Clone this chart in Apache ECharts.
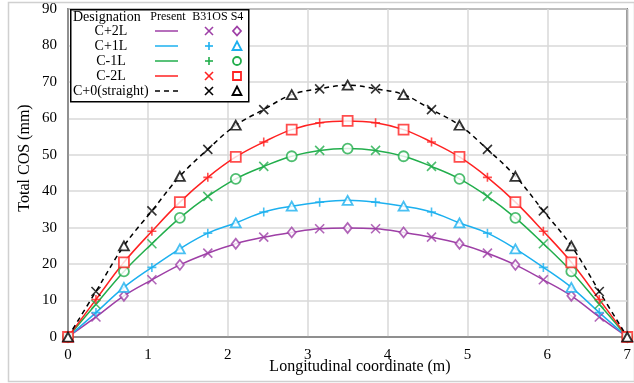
<!DOCTYPE html>
<html><head><meta charset="utf-8">
<script src="https://cdn.jsdelivr.net/npm/echarts@6/dist/echarts.min.js"></script>
<style>html,body{margin:0;padding:0;background:#fff}#c{width:634px;height:383px}</style>
</head><body><div id="c"></div>
<script>
var xs = [0,0.35,0.7,1.05,1.4,1.75,2.1,2.45,2.8,3.15,3.5,3.85,4.2,4.55,4.9,5.25,5.6,5.95,6.3,6.65,7];
var cP2 = [0,5.5,11.3,15.7,19.8,23.0,25.6,27.4,28.7,29.7,29.9,29.7,28.7,27.4,25.6,23.0,19.8,15.7,11.3,5.5,0];
var cP1 = [0,6.7,13.6,19.1,24.2,28.5,31.3,34.3,35.9,37.0,37.5,37.0,35.9,34.3,31.3,28.5,24.2,19.1,13.6,6.7,0];
var cM1 = [0,9.0,18.0,25.6,32.7,38.6,43.4,46.8,49.6,51.2,51.7,51.2,49.6,46.8,43.4,38.6,32.7,25.6,18.0,9.0,0];
var cM2 = [0,10.3,20.5,29.0,37.0,43.8,49.4,53.5,56.9,58.8,59.3,58.8,56.9,53.5,49.4,43.8,37.0,29.0,20.5,10.3,0];
var c0  = [0,12.5,25.0,34.6,44.1,51.5,58.1,62.4,66.5,68.1,69.1,68.1,66.5,62.4,58.1,51.5,44.1,34.6,25.0,12.5,0];
var names = ['C+2L','C+1L','C-1L','C-2L','C+0(straight)'];
var colors = ['#9e3fa6','#1cb0ef','#22ae4c','#ff2222','#000000'];
var xTicks = ['0','1','2','3','4','5','6','7'];
var yTicks = ['0','10','20','30','40','50','60','70','80','90'];

var CROSS = 'path://M0,0L10,10M10,0L0,10';
var PLUS = 'path://M5,0L5,10M0,5L10,5';
var b31Sym = [CROSS, PLUS, CROSS, PLUS, CROSS];
var s4Sym = ['diamond','triangle','circle','rect','triangle'];
var s4Size = [[8,10],[10,9],[10,10],[10,10],[10,9]];
var all = [cP2,cP1,cM1,cM2,c0];

function pairs(arr, parity){
  var out=[];
  for (var i=0;i<xs.length;i++){ if (parity===null || i%2===parity) out.push([xs[i],arr[i]]); }
  return out;
}
var series=[];
all.forEach(function(arr,k){
  series.push({type:'line', name:names[k]+' Present', data:pairs(arr,null), smooth:0.4, showSymbol:false,
    lineStyle:{color:colors[k], width:1.5, type: k===4?[5,4]:'solid'}, z:2, silent:true});
});
all.forEach(function(arr,k){
  series.push({type:'scatter', name:names[k]+' B31OS', data:pairs(arr,1), symbol:b31Sym[k], symbolSize:9,
    itemStyle:{color:'rgba(0,0,0,0)', borderColor:colors[k], borderWidth:1.6}, z:3});
  series.push({type:'scatter', name:names[k]+' S4', data:pairs(arr,0), symbol:s4Sym[k], symbolSize:s4Size[k],
    itemStyle:{color:'#fff', borderColor:colors[k], borderWidth:1.8}, z:4});
});

var serif = 'Liberation Serif';
var g=[];
g.push({type:'rect', shape:{x:0,y:0,width:626,height:379}, style:{fill:'none', stroke:'#d0d0d0', lineWidth:1.5}, z:0, silent:true, left:6, top:0});
g.push({type:'rect', left:70, top:9, shape:{x:0,y:0,width:178,height:92}, style:{fill:'#fff', stroke:'#000', lineWidth:1.5}, z:100});
g.push({type:'text', left:73, top:10, style:{text:'Designation', font:'14px '+serif, fill:'#000'}, z:101});
g.push({type:'text', x:168, y:17, style:{text:'Present', font:'12px '+serif, fill:'#000', align:'center', verticalAlign:'middle'}, z:101});
g.push({type:'text', x:210, y:17, style:{text:'B31OS', font:'12px '+serif, fill:'#000', align:'center', verticalAlign:'middle'}, z:101});
g.push({type:'text', x:237, y:17, style:{text:'S4', font:'12px '+serif, fill:'#000', align:'center', verticalAlign:'middle'}, z:101});
var rowY=[31,46,61,76,91];
var legB31 = [CROSS, PLUS, PLUS, CROSS, CROSS];
function glyph(kind, cx, cy, col){
  var s=4;
  if (kind===CROSS) return [{type:'polyline', shape:{points:[[cx-s,cy-s],[cx+s,cy+s]]}, style:{stroke:col,lineWidth:1.6}},{type:'polyline', shape:{points:[[cx+s,cy-s],[cx-s,cy+s]]}, style:{stroke:col,lineWidth:1.6}}];
  if (kind===PLUS) return [{type:'polyline', shape:{points:[[cx,cy-s],[cx,cy+s]]}, style:{stroke:col,lineWidth:1.6}},{type:'polyline', shape:{points:[[cx-s,cy],[cx+s,cy]]}, style:{stroke:col,lineWidth:1.6}}];
  if (kind==='diamond') return [{type:'polygon', shape:{points:[[cx,cy-4.5],[cx+4,cy],[cx,cy+4.5],[cx-4,cy]]}, style:{fill:'#fff',stroke:col,lineWidth:1.8}}];
  if (kind==='triangle') return [{type:'polygon', shape:{points:[[cx,cy-4.5],[cx+4.5,cy+4],[cx-4.5,cy+4]]}, style:{fill:'#fff',stroke:col,lineWidth:1.8}}];
  if (kind==='circle') return [{type:'circle', shape:{cx:cx,cy:cy,r:4}, style:{fill:'#fff',stroke:col,lineWidth:1.8}}];
  if (kind==='rect') return [{type:'rect', shape:{x:cx-4,y:cy-4,width:8,height:8}, style:{fill:'#fff',stroke:col,lineWidth:1.8}}];
  return [];
}
names.forEach(function(n,k){
  var y=rowY[k];
  g.push({type:'text', x: k===4?73:111, y:y, style:{text:n, font:'14px '+serif, fill:'#000', align:k===4?'left':'center', verticalAlign:'middle'}, z:101});
  g.push({type:'polyline', shape:{points:[[155,y],[178,y]]}, style:{stroke:colors[k], lineWidth:1.5, lineDash:k===4?[5,4]:null}, z:101});
  glyph(legB31[k],209,y,colors[k]).forEach(function(e){e.z=101; g.push(e);});
  glyph(s4Sym[k],237,y,colors[k]).forEach(function(e){e.z=101; g.push(e);});
});
g.push({type:'text', x:25, y:158, rotation:Math.PI/2, style:{text:'Total COS (mm)', font:'16px '+serif, fill:'#000', align:'center', verticalAlign:'middle'}, z:101});
g.push({type:'text', x:360, y:367, style:{text:'Longitudinal coordinate (m)', font:'16px '+serif, fill:'#000', align:'center', verticalAlign:'middle'}, z:101});

var chart = echarts.init(document.getElementById('c'), null, {renderer:'canvas'});
chart.setOption({
  animation:false,
  backgroundColor:'#fff',
  grid:{left:68, right:6, top:9, bottom:46, show:true, borderColor:'#404040', borderWidth:1.5, backgroundColor:'transparent'},
  xAxis:{type:'value', min:0, max:7, interval:1,
    axisLine:{show:true, onZero:false, lineStyle:{color:'#808080', width:1.5}}, axisTick:{show:false},
    axisLabel:{fontFamily:serif, fontSize:15, color:'#000', margin:11, formatter:function(v){return xTicks[Math.round(v)];}},
    splitLine:{show:true, lineStyle:{color:'#d9d9d9', width:1.5}}},
  yAxis:{type:'value', min:0, max:90, interval:10,
    axisLine:{show:true, lineStyle:{color:'#808080', width:1.5}}, axisTick:{show:false},
    axisLabel:{fontFamily:serif, fontSize:15, color:'#000', margin:11, formatter:function(v){return yTicks[Math.round(v/10)];}},
    splitLine:{show:true, lineStyle:{color:'#d9d9d9', width:1.5}}},
  series:series,
  graphic:g
});
</script></body></html>
